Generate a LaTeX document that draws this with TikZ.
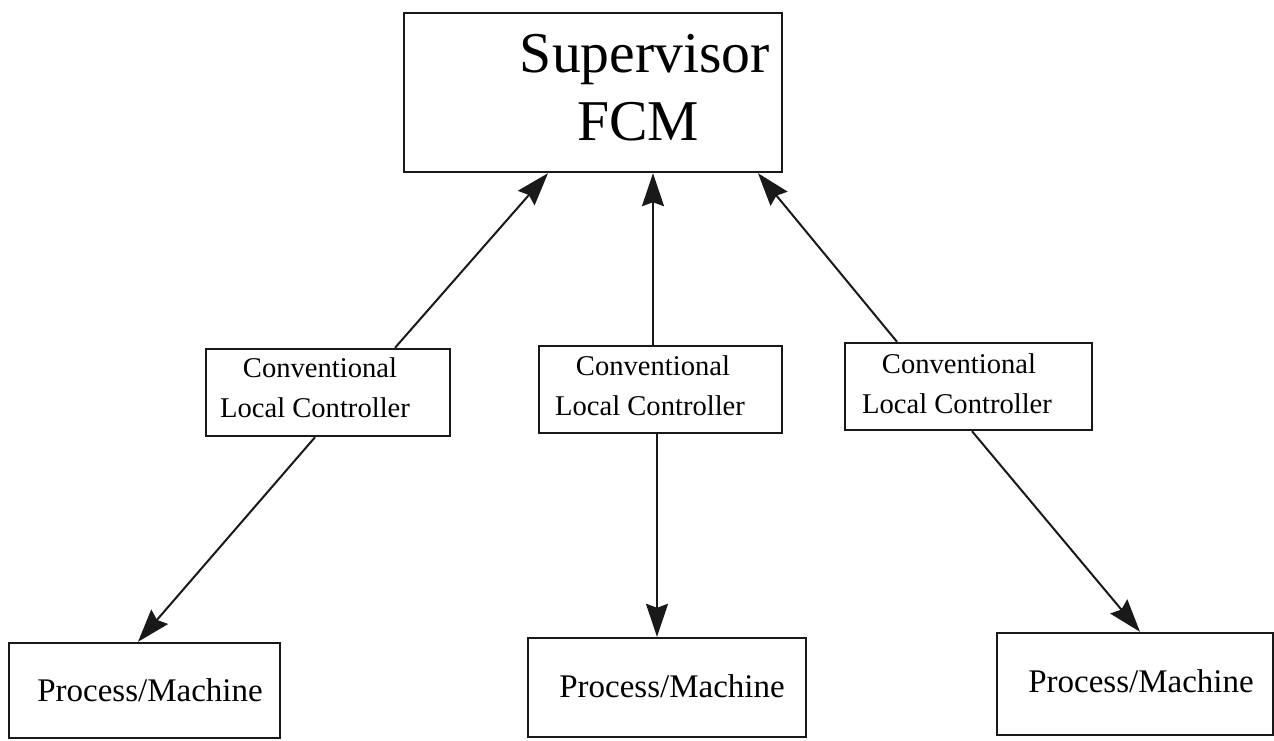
\documentclass[tikz,border=0pt]{standalone}
\usepackage{fontspec}
\setmainfont{Liberation Serif}
\usetikzlibrary{arrows.meta}
\begin{document}
\begin{tikzpicture}[x=1pt,y=-1pt,
  box/.style={draw=black!90, line width=2.4pt, rectangle, inner sep=0pt},
  conn/.style={draw=black!90, line width=2pt, -{Stealth[length=33pt,width=22pt,inset=4pt]}},
  big/.style={anchor=base, inner sep=0pt, font=\fontsize{57.7}{60}\selectfont},
  small/.style={anchor=base, inner sep=0pt, font=\fontsize{28.6}{30}\selectfont},
  mid/.style={anchor=base, inner sep=0pt, font=\fontsize{33}{35}\selectfont}]
\fill[white] (0,0) rectangle (1274,740);
\useasboundingbox (0,0) rectangle (1274,740);
% boxes
\node[box, minimum width=378pt, minimum height=159pt] (sup) at (593,92.5) {};
\node[box, minimum width=244pt, minimum height=87pt] (c1) at (328,392.5) {};
\node[box, minimum width=243pt, minimum height=87pt] (c2) at (660.5,389.5) {};
\node[box, minimum width=247pt, minimum height=87pt] (c3) at (968.5,386.5) {};
\node[box, minimum width=271pt, minimum height=95pt] (p1) at (144.5,690.5) {};
\node[box, minimum width=278pt, minimum height=99pt] (p2) at (667,687.5) {};
\node[box, minimum width=276pt, minimum height=102pt] (p3) at (1135,684) {};
% texts
\node[big] (supa) at (645,72) {Supervisor};
\node[big] (supb) at (638,140) {FCM};
\node[small] (c1a) at (320,377) {Conventional};
\node[small] (c1b) at (315,417) {Local Controller};
\node[small] (c2a) at (653,375) {Conventional};
\node[small] (c2b) at (650,415) {Local Controller};
\node[small] (c3a) at (959,373) {Conventional};
\node[small] (c3b) at (957,413) {Local Controller};
\node[mid] (p1t) at (150,701) {Process/Machine};
\node[mid] (p2t) at (672,697) {Process/Machine};
\node[mid] (p3t) at (1141,692) {Process/Machine};
% connectors
\draw[conn] ([xshift=67pt]c1.north) -- ([xshift=-45pt]sup.south);
\draw[conn] ([xshift=-7.5pt]c2.north) -- ([xshift=60pt]sup.south);
\draw[conn] ([xshift=-71.5pt]c3.north) -- ([xshift=165pt]sup.south);
\draw[conn] ([xshift=-13pt]c1.south) -- ([xshift=-6.5pt]p1.north);
\draw[conn] ([xshift=-3.5pt]c2.south) -- ([xshift=-10pt]p2.north);
\draw[conn] ([xshift=3.5pt]c3.south) -- ([xshift=5pt]p3.north);
\end{tikzpicture}
\end{document}
